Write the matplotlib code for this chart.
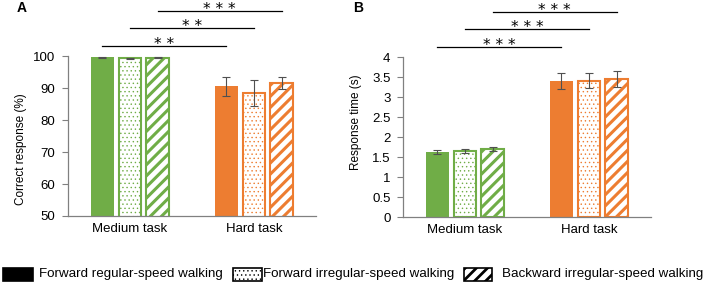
import matplotlib

matplotlib.use("Agg")
import matplotlib.pyplot as plt  # noqa: E402
import matplotlib.transforms as mtransforms  # noqa: E402
import numpy as np  # noqa: E402
from matplotlib.patches import Rectangle  # noqa: E402

plt.rcParams["font.family"] = ["Liberation Sans", "DejaVu Sans"]

GREEN, ORANGE = "#70ad47", "#ed7d31"
ERR = "#505050"

tasks = ["Medium task", "Hard task"]
conditions = ["Forward regular-speed walking",
              "Forward irregular-speed walking",
              "Backward irregular-speed walking"]

# panel A: correct response (%), rows = condition, cols = task
acc_mean = [[99.6, 90.5], [99.3, 88.4], [99.5, 91.6]]
acc_err = [[0.2, 3.0], [0.2, 4.1], [0.2, 1.9]]
# panel B: response time (s)
rt_mean = [[1.63, 3.39], [1.66, 3.41], [1.69, 3.45]]
rt_err = [[0.05, 0.20], [0.05, 0.18], [0.05, 0.19]]

sig_a = ["**", "**", "***"]
sig_b = ["***", "***", "***"]


def draw_panel(ax, means, errs, sig, ylim, step, ylabel, label_y):
    x = np.arange(len(tasks))
    off = [-0.222, 0.0, 0.222]
    w = 0.185
    cols = [GREEN, ORANGE]
    for ci in range(3):
        for ti in range(2):
            c = cols[ti]
            xi = x[ti] + off[ci]
            if ci == 0:
                ax.bar(xi, means[ci][ti], w, color=c, edgecolor=c, lw=0, zorder=2)
            elif ci == 1:
                plt.rcParams["hatch.linewidth"] = 0.5
                ax.bar(xi, means[ci][ti], w, color="white", edgecolor=c,
                       hatch="....", lw=1.5, zorder=2)
            else:
                plt.rcParams["hatch.linewidth"] = 2.2
                ax.bar(xi, means[ci][ti], w, color="white", edgecolor=c,
                       hatch="///", lw=1.5, zorder=2)
            ax.errorbar(xi, means[ci][ti], yerr=errs[ci][ti], fmt="none",
                        ecolor=ERR, elinewidth=0.8, capsize=3, capthick=0.8, zorder=3)
    ax.set_ylim(*ylim)
    ax.set_xlim(-0.5, 1.5)
    ax.set_yticks(np.arange(ylim[0], ylim[1] + step / 2, step))
    ax.yaxis.set_major_formatter(plt.FuncFormatter(lambda v, p: f"{v:g}"))
    ax.set_xticks(x)
    ax.set_xticklabels(tasks, fontsize=9.5)
    ax.tick_params(axis="x", length=0, pad=5)
    ax.tick_params(axis="y", length=4, color="#808080", labelsize=9.5, pad=5)
    for s in ["top", "right"]:
        ax.spines[s].set_visible(False)
    for s in ["left", "bottom"]:
        ax.spines[s].set_color("#808080")
        ax.spines[s].set_linewidth(0.9)
    ax.set_ylabel(ylabel, fontsize=8.5)
    ax.yaxis.set_label_coords(-0.165, label_y)
    # significance bridges: medium bar i -> hard bar i
    span = ylim[1] - ylim[0]
    below = mtransforms.offset_copy(ax.transData, fig=ax.figure, x=0, y=-3,
                                    units="dots")
    for i, txt in enumerate(sig):
        y = ylim[1] + span * (0.065 + 0.108 * i)
        x0, x1 = x[0] + off[i], x[1] + off[i]
        ax.plot([x0, x1], [y, y], color="black", lw=0.9, clip_on=False)
        ax.text((x0 + x1) / 2, y, txt.replace("*", "* ").strip(),
                ha="center", va="baseline", fontsize=11, clip_on=False,
                family="DejaVu Sans", transform=below)


fig = plt.figure(figsize=(7.04, 2.87), dpi=100)
ax_a = fig.add_axes([68 / 704, 71 / 287, 248 / 704, 160 / 287])
ax_b = fig.add_axes([403 / 704, 70 / 287, 248 / 704, 160 / 287])

draw_panel(ax_a, acc_mean, acc_err, sig_a, (50, 100), 10,
           "Correct response (%)", 0.42)
draw_panel(ax_b, rt_mean, rt_err, sig_b, (0, 4), 0.5,
           "Response time (s)", 0.59)

fig.text(17 / 704, 1 - 8 / 287, "A", fontsize=10, fontweight="bold", va="center")
fig.text(353 / 704, 1 - 8 / 287, "B", fontsize=10, fontweight="bold", va="center")

# legend drawn by hand: (box left, box right, text left) in pixels
W, H = 704, 287
slots = [(3, 33, 39), (233, 262, 263), (464, 492, 502)]
styles = [dict(facecolor="black", edgecolor="black", hatch=None, hlw=0.5),
          dict(facecolor="white", edgecolor="black", hatch="....", hlw=0.5),
          dict(facecolor="white", edgecolor="black", hatch="///", hlw=2.0)]
y0, y1 = 268, 281
for (bl, br, tl), st, lab in zip(slots, styles, conditions):
    plt.rcParams["hatch.linewidth"] = st["hlw"]
    fig.patches.append(Rectangle((bl / W, 1 - y1 / H), (br - bl) / W, (y1 - y0) / H,
                                 transform=fig.transFigure, facecolor=st["facecolor"],
                                 edgecolor=st["edgecolor"], hatch=st["hatch"], lw=1.2))
    fig.text(tl / W, 1 - (y0 + y1) / 2 / H, lab, fontsize=9.6, va="center", ha="left")

fig.savefig("out.png", dpi=100)
